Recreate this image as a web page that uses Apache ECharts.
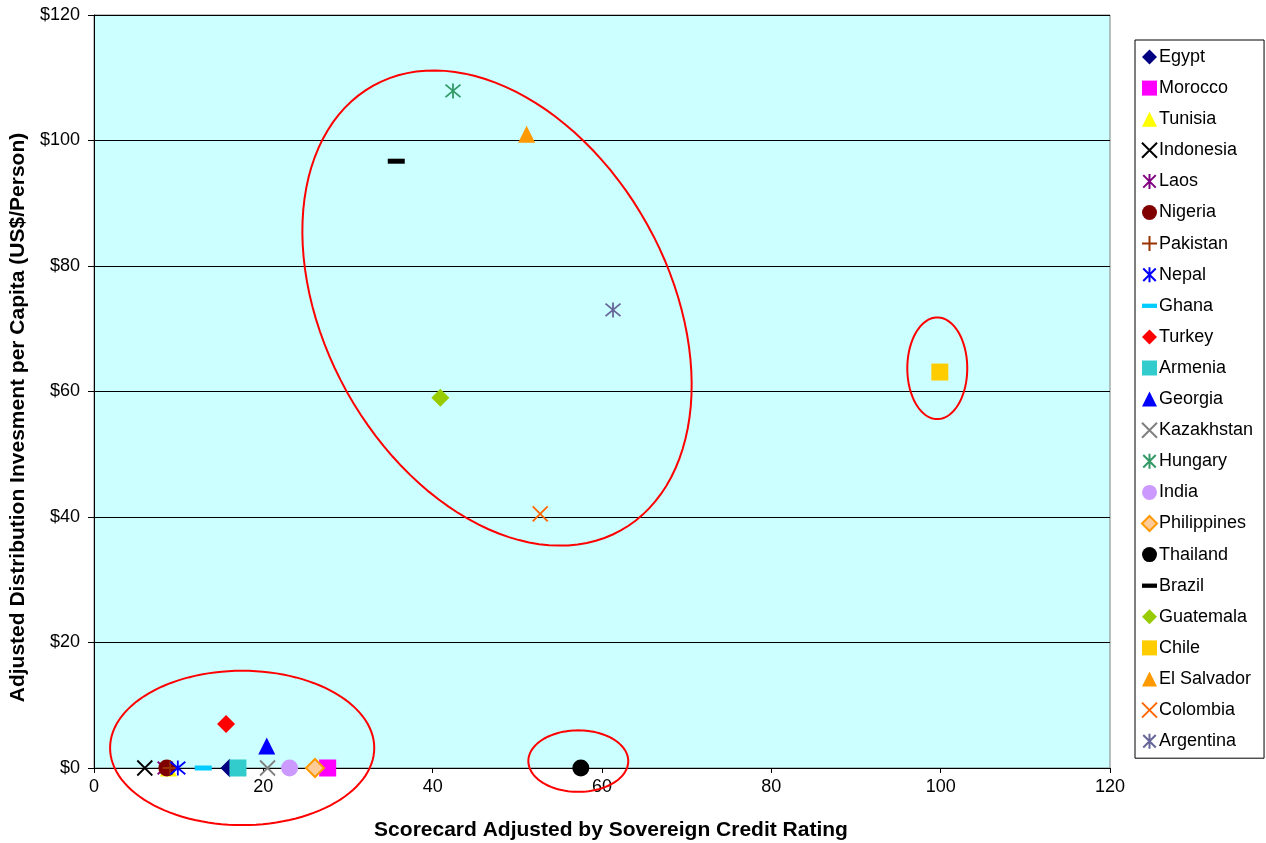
<!DOCTYPE html>
<html><head><meta charset="utf-8">
<script src="https://cdn.jsdelivr.net/npm/echarts@6/dist/echarts.min.js"></script>
<style>html,body{margin:0;padding:0;background:#fff}#c{width:1266px;height:843px}</style>
</head><body><div id="c"></div>
<script>
// ---- data ----
const countries = ['Egypt','Morocco','Tunisia','Indonesia','Laos','Nigeria','Pakistan','Nepal','Ghana','Turkey','Armenia','Georgia','Kazakhstan','Hungary','India','Philippines','Thailand','Brazil','Guatemala','Chile','El Salvador','Colombia','Argentina'];
const xScore = [16.0, 27.6, 8.8, 6.0, 8.4, 8.6, 9.0, 9.9, 12.9, 15.6, 17.0, 20.4, 20.5, 42.4, 23.1, 26.1, 57.5, 35.7, 40.9, 99.9, 51.1, 52.7, 61.3];
const yInvest = [0, 0, 0, 0, 0, 0, 0, 0, 0, 7.0, 0, 3.5, 0, 107.9, 0, 0, 0, 96.7, 59.0, 63.1, 101.0, 40.5, 73.0];
const xTicks = [0, 20, 40, 60, 80, 100, 120];
const yTicks = [0, 20, 40, 60, 80, 100, 120];
// annotation ellipses: [centerX, centerY, semiAxisA (x units), semiAxisB (y units), rotation deg]
const ellipseCenters = [[47.6, 73.3], [17.5, 3.2], [57.2, 1.1], [99.6, 63.7]];
const ellipseAxes = [[30.06, 27.4], [15.6, 12.3], [5.9, 4.9], [3.54, 8.1]];
const ellipseAngles = [60.9, 0, 0, 0];

// ---- styles ----
const P = {
  X: 'path://M0,0L10,10M10,0L0,10',
  AST: 'path://M0,0L10,10M10,0L0,10M5,-1L5,11',
  PLUS: 'path://M0,5L10,5M5,0L5,10',
  DASH: 'path://M0,0L14,0L14,4L0,4Z'
};
const styles = {
  Egypt:{s:'diamond',c:'#000080'},
  Morocco:{s:'rect',c:'#FF00FF'},
  Tunisia:{s:'triangle',c:'#FFFF00'},
  Indonesia:{s:P.X,c:'#000000',line:true},
  Laos:{s:P.AST,c:'#800080',line:true},
  Nigeria:{s:'circle',c:'#800000'},
  Pakistan:{s:P.PLUS,c:'#993300',line:true},
  Nepal:{s:P.AST,c:'#0000FF',line:true},
  Ghana:{s:'rect',c:'#00CCFF',size:[17,5],dash:true},
  Turkey:{s:'diamond',c:'#FF0000'},
  Armenia:{s:'rect',c:'#33CCCC'},
  Georgia:{s:'triangle',c:'#0000FF'},
  Kazakhstan:{s:P.X,c:'#808080',line:true},
  Hungary:{s:P.AST,c:'#339966',line:true},
  India:{s:'circle',c:'#CC99FF'},
  Philippines:{s:'diamond',c:'#FFCC99',b:'#FF9900'},
  Thailand:{s:'circle',c:'#000000'},
  Brazil:{s:'rect',c:'#000000',size:[17,5],dash:true},
  Guatemala:{s:'diamond',c:'#99CC00'},
  Chile:{s:'rect',c:'#FFCC00'},
  'El Salvador':{s:'triangle',c:'#FF9900'},
  Colombia:{s:P.X,c:'#FF6600',line:true},
  Argentina:{s:P.AST,c:'#666699',line:true}
};

const series = countries.map((name, i) => {
  const st = styles[name];
  let itemStyle;
  if (st.line) itemStyle = {color: 'rgba(0,0,0,0)', borderColor: st.c, borderWidth: 1.8, opacity: 1};
  else if (st.b) itemStyle = {color: st.c, borderColor: st.b, borderWidth: 2, opacity: 1};
  else itemStyle = {color: st.c, opacity: 1};
  return {
    name, type: 'scatter', z: 3,
    symbol: st.s,
    symbolSize: st.size || (st.s === 'diamond' ? 18 : (st.line ? 15 : 17)),
    symbolKeepAspect: false,
    itemStyle,
    emphasis: {disabled: true},
    data: [[xScore[i], yInvest[i]]]
  };
});

const ellipseData = ellipseCenters.map((c, i) => [c[0], c[1], ellipseAxes[i][0], ellipseAxes[i][1], ellipseAngles[i]]);
series.push({
  type: 'custom', name: 'ellipses', clip: false, silent: true, z: 5,
  data: ellipseData,
  encode: {x: 0, y: 1},
  renderItem: function (params, api) {
    const c = api.coord([api.value(0), api.value(1)]);
    const unit = api.size([1, 1]);
    const a = api.value(2) * unit[0];
    const b = api.value(3) * unit[1];
    const th = api.value(4) * Math.PI / 180;
    const pts = [];
    for (let k = 0; k < 120; k++) {
      const t = k / 120 * Math.PI * 2;
      const ex = a * Math.cos(t), ey = b * Math.sin(t);
      pts.push([c[0] + ex * Math.cos(th) - ey * Math.sin(th), c[1] + ex * Math.sin(th) + ey * Math.cos(th)]);
    }
    return {type: 'polygon', shape: {points: pts}, style: {fill: null, stroke: '#FF0000', lineWidth: 2}};
  }
});

const legendData = countries.map(n => styles[n].dash ? {name: n, icon: P.DASH} : {name: n});

const font = 'Liberation Sans, Arial, sans-serif';
const chart = echarts.init(document.getElementById('c'), null, {renderer: 'canvas'});
chart.setOption({
  animation: false,
  backgroundColor: '#ffffff',
  textStyle: {fontFamily: font},
  grid: {left: 94, right: 156, top: 15, bottom: 75, outerBoundsMode: 'none', containLabel: false,
         show: true, backgroundColor: '#CCFFFF', borderColor: '#808080', borderWidth: 1},
  xAxis: {
    type: 'value', min: 0, max: 120, interval: 20,
    name: 'Scorecard Adjusted by Sovereign Credit Rating', nameLocation: 'middle', nameGap: 52,
    nameTextStyle: {fontFamily: font, fontSize: 21, fontWeight: 'bold', color: '#000', padding: [0, 0, 0, 18]},
    axisLine: {lineStyle: {color: '#000', width: 1}},
    axisTick: {show: true, inside: false, length: 5, lineStyle: {color: '#000'}},
    axisLabel: {color: '#000', fontSize: 18, margin: 10, fontFamily: font},
    splitLine: {show: false}
  },
  yAxis: {
    type: 'value', min: 0, max: 120, interval: 20,
    name: 'Adjusted Distribution Invesment per Capita (US$/Person)', nameLocation: 'middle', nameGap: 60, nameRotate: 90,
    nameTextStyle: {fontFamily: font, fontSize: 21, fontWeight: 'bold', color: '#000', padding: [0, 52, 0, 0]},
    axisLine: {show: true, lineStyle: {color: '#000', width: 1}},
    axisTick: {show: true, inside: false, length: 6, lineStyle: {color: '#000'}},
    axisLabel: {color: '#000', fontSize: 18, margin: 14, fontFamily: font, formatter: v => '$' + v},
    splitLine: {show: true, lineStyle: {color: '#000', width: 1}}
  },
  legend: {
    orient: 'vertical', left: 1135, top: 40,
    data: legendData,
    itemWidth: 15, itemHeight: 15, itemGap: 13.1,
    padding: [8, 11, 8, 6],
    borderColor: '#000', borderWidth: 1, backgroundColor: '#fff',
    textStyle: {fontSize: 18, color: '#000', fontFamily: font, padding: [0, 0, 0, -3]},
    selectedMode: false
  },
  series
});
</script></body></html>
